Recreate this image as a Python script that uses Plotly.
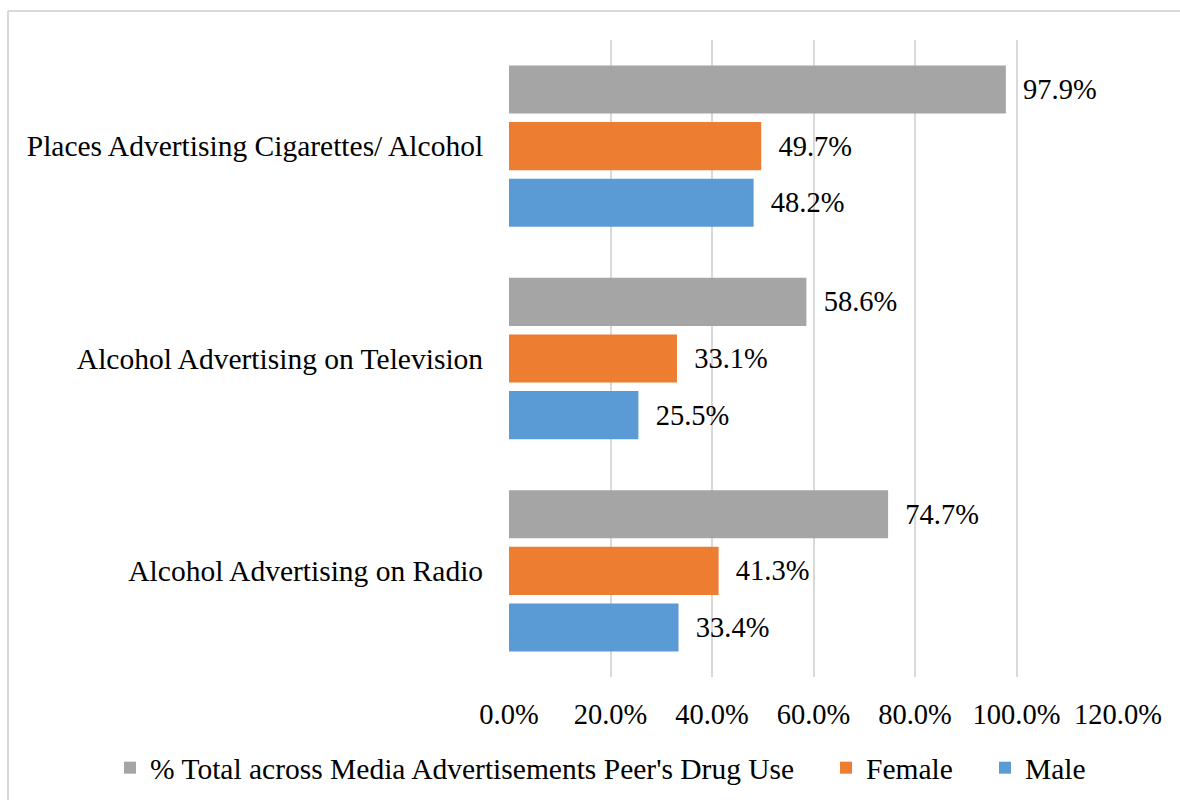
import plotly.graph_objects as go

# Media advertisement exposure by gender (percent of respondents)
categories = [
    "Alcohol Advertising on Radio",
    "Alcohol Advertising on Television",
    "Places Advertising Cigarettes/ Alcohol",
]
male = [33.4, 25.5, 48.2]
female = [41.3, 33.1, 49.7]
total = [74.7, 58.6, 97.9]

series_names = ["Male", "Female", "% Total across Media Advertisements Peer's Drug Use"]
series_colors = ["#5B9BD5", "#ED7D31", "#A5A5A5"]
series_legends = ["legend3", "legend2", "legend"]

x_ticks = [0, 20, 40, 60, 80, 100, 120]
x_tick_labels = ["0.0%", "20.0%", "40.0%", "60.0%", "80.0%", "100.0%", "120.0%"]

FONT = "Liberation Serif"
W, H = 1180, 800
ML, MR, MT, MB = 509, 62, 40, 123

fig = go.Figure()
for name, vals, color, lg in zip(series_names, [male, female, total], series_colors, series_legends):
    fig.add_trace(go.Bar(
        y=categories,
        x=vals,
        name=name,
        legend=lg,
        orientation="h",
        marker=dict(color=color, line=dict(width=0)),
        text=[f"\u00a0\u00a0{v:.1f}%" for v in vals],
        textposition="outside",
        textfont=dict(family=FONT, size=28.5, color="#000000"),
        cliponaxis=False,
    ))

# pixel -> paper coordinate helpers for the frame and legend placement
pw, ph = W - ML - MR, H - MT - MB
def px_x(p):
    return (p - ML) / pw
def px_y(p):
    return 1 - (p - MT) / ph

# thin light frame around the chart (top and left edges)
fig.add_shape(type="line", xref="paper", yref="paper",
              x0=px_x(8), x1=px_x(1200), y0=px_y(11), y1=px_y(11),
              line=dict(color="#D9D9D9", width=2))
fig.add_shape(type="line", xref="paper", yref="paper",
              x0=px_x(8), x1=px_x(8), y0=px_y(11), y1=px_y(820),
              line=dict(color="#D9D9D9", width=2))

legend_font = dict(family=FONT, size=29.5, color="#000000")
def legend_at(px_left):
    return dict(
        orientation="h",
        x=px_x(px_left), y=px_y(768),
        xanchor="left", yanchor="middle",
        font=legend_font,
        itemclick=False, itemdoubleclick=False,
        bgcolor="rgba(0,0,0,0)",
    )

fig.update_layout(
    width=W, height=H,
    margin=dict(l=ML, r=MR, t=MT, b=MB, autoexpand=False),
    paper_bgcolor="white",
    plot_bgcolor="white",
    barmode="group",
    bargap=0.2,
    bargroupgap=0.15,
    font=dict(family=FONT, size=28.5, color="#000000"),
    xaxis=dict(
        range=[0, 120],
        tickvals=x_ticks,
        ticktext=x_tick_labels,
        showgrid=True,
        gridcolor="#D9D9D9",
        gridwidth=1.5,
        zeroline=False,
        showline=False,
        ticks="outside",
        ticklen=12,
        tickcolor="rgba(0,0,0,0)",
        tickfont=dict(family=FONT, size=28.5, color="#000000"),
        fixedrange=True,
    ),
    yaxis=dict(
        showgrid=False,
        zeroline=False,
        showline=False,
        ticks="outside",
        ticklen=19,
        tickcolor="rgba(0,0,0,0)",
        tickfont=dict(family=FONT, size=29.5, color="#000000"),
        fixedrange=True,
    ),
    legend=legend_at(110),
    legend2=legend_at(826),
    legend3=legend_at(985),
    showlegend=True,
)

fig.write_html("out.html")
